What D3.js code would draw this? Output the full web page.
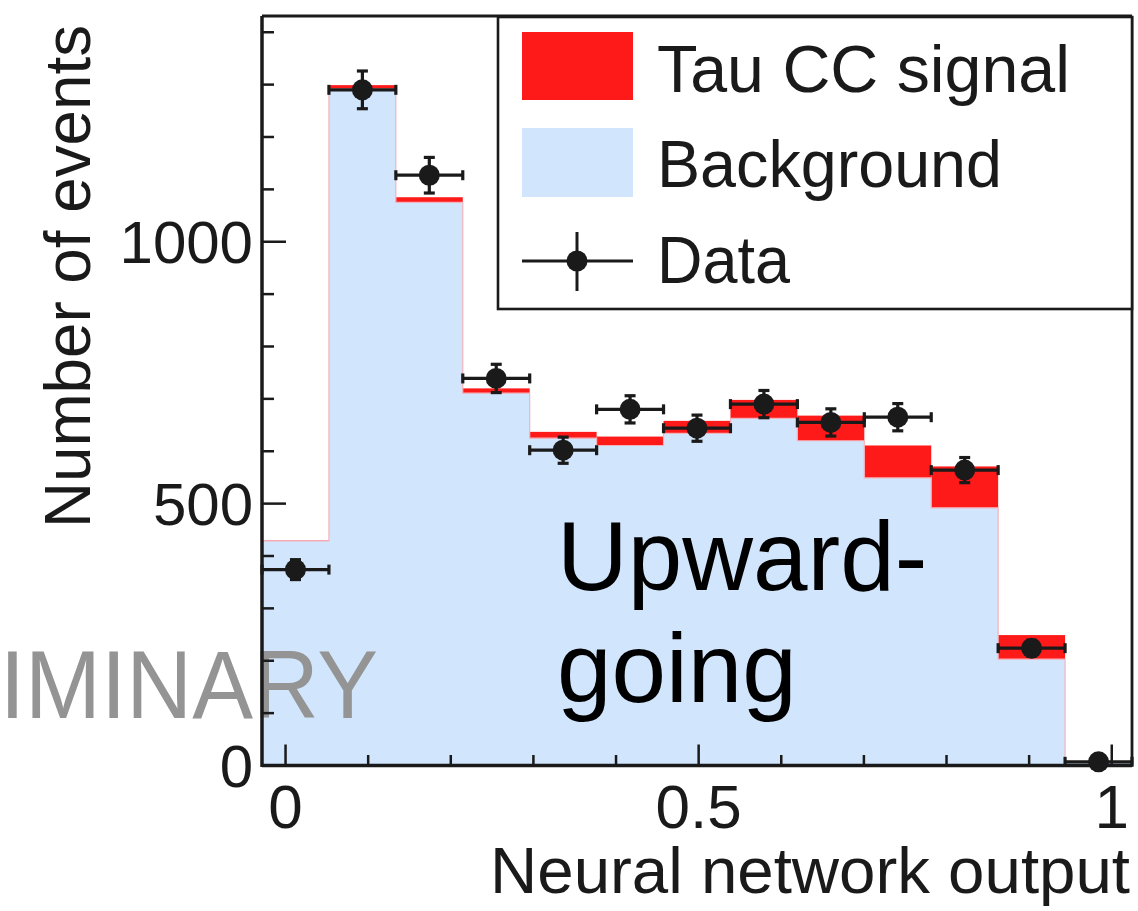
<!DOCTYPE html>
<html>
<head>
<meta charset="utf-8">
<script src="https://cdn.jsdelivr.net/npm/d3@7"></script>
<style>
  html, body { margin: 0; padding: 0; background: #fff; }
  svg { display: block; font-family: "Liberation Sans", Arial, Helvetica, sans-serif; }
</style>
</head>
<body>
<svg id="chart" width="1138" height="911"></svg>
<script>
// Histogram binning in neural-network output
const binCentres = [0.012, 0.093, 0.174, 0.255, 0.336, 0.417, 0.498, 0.579, 0.660, 0.741, 0.822, 0.903, 0.984];
const binWidth = 0.081;

// Stacked expectation per bin
const background = [429, 1292, 1075, 711, 625, 611, 634, 663, 620, 549, 492, 203, 6];
const tauSignal  = [1, 7, 10, 9, 12, 17, 24, 35, 48, 62, 79, 46, 1];

// Observed events and statistical uncertainty
const dataCounts = [374, 1290, 1127, 739, 602, 680, 644, 690, 655, 665, 564, 224, 7];
const dataErrors = [19, 36, 34, 27, 25, 26, 25, 26, 26, 26, 24, 15, 3];

// Axis ticks
const xMajorTicks = [0, 0.5, 1];
const xMinorTicks = [0, 0.1, 0.2, 0.3, 0.4, 0.5, 0.6, 0.7, 0.8, 0.9, 1];
const yMajorTicks = [0, 500, 1000];
const yMinorTicks = [0, 100, 200, 300, 400, 500, 600, 700, 800, 900, 1000, 1100, 1200, 1300, 1400];

const legendLabels = ["Tau CC signal", "Background", "Data"];

const RED = "#ff1a1a";
const BLUE = "#d1e5fd";
const INK = "#1a1a1a";

const frame = { left: 262, right: 1132, top: 16, bottom: 765.5 };
const svg = d3.select("#chart");

const x = d3.scaleLinear()
  .domain([binCentres[0] - binWidth / 2, binCentres[binCentres.length - 1] + binWidth / 2])
  .range([frame.left, frame.right]);
const y = d3.scaleLinear().domain([0, 1431]).range([frame.bottom, frame.top]);

const bins = binCentres.map((c, i) => ({
  lo: c - binWidth / 2, hi: c + binWidth / 2, c,
  bg: background[i], sig: tauSignal[i],
  data: dataCounts[i], err: dataErrors[i]
}));

const plot = svg.append("g");

// Background fill
plot.selectAll("rect.bg").data(bins).join("rect")
  .attr("class", "bg")
  .attr("x", d => x(d.lo)).attr("width", d => x(d.hi) - x(d.lo))
  .attr("y", d => y(d.bg)).attr("height", d => y(0) - y(d.bg))
  .attr("fill", BLUE).attr("shape-rendering", "crispEdges");

// Signal stacked on top of background
plot.selectAll("rect.sig").data(bins).join("rect")
  .attr("class", "sig")
  .attr("x", d => x(d.lo)).attr("width", d => x(d.hi) - x(d.lo))
  .attr("y", d => y(d.bg + d.sig)).attr("height", d => y(d.bg) - y(d.bg + d.sig))
  .attr("fill", RED);

// Faint outline of the background histogram
const outline = d3.line().curve(d3.curveStepAfter).x(d => x(d[0])).y(d => y(d[1]));
const outlinePts = bins.map(b => [b.lo, b.bg]);
outlinePts.push([bins[bins.length - 1].hi, bins[bins.length - 1].bg]);
plot.append("path")
  .attr("d", outline(outlinePts))
  .attr("fill", "none").attr("stroke", "#f3b3bb").attr("stroke-width", 1.2);

// Text overlays inside the frame
svg.append("text")
  .attr("transform", "translate(378,718) scale(0.95,1)")
  .attr("text-anchor", "end")
  .attr("font-size", 96).attr("fill", "#949494")
  .text("PRELIMINARY");

svg.append("text")
  .attr("x", 557).attr("y", 590)
  .attr("font-size", 98).attr("fill", "#000")
  .text("Upward-");
svg.append("text")
  .attr("x", 557).attr("y", 702)
  .attr("font-size", 98).attr("fill", "#000")
  .text("going");

// Data points with error bars
const pts = svg.append("g").attr("stroke", INK).attr("fill", INK);
const capH = 5, capV = 5.5;
bins.forEach(b => {
  const g = pts.append("g");
  const cx = x(b.c), cy = y(b.data);
  g.append("line").attr("x1", x(b.lo)).attr("x2", x(b.hi)).attr("y1", cy).attr("y2", cy).attr("stroke-width", 3.2);
  g.append("line").attr("x1", x(b.lo)).attr("x2", x(b.lo)).attr("y1", cy - capH).attr("y2", cy + capH).attr("stroke-width", 3.2);
  g.append("line").attr("x1", x(b.hi)).attr("x2", x(b.hi)).attr("y1", cy - capH).attr("y2", cy + capH).attr("stroke-width", 3.2);
  const yt = y(b.data + b.err), yb = y(Math.max(0, b.data - b.err));
  g.append("line").attr("x1", cx).attr("x2", cx).attr("y1", yt).attr("y2", yb).attr("stroke-width", 3.2);
  g.append("line").attr("x1", cx - capV).attr("x2", cx + capV).attr("y1", yt).attr("y2", yt).attr("stroke-width", 3.2);
  g.append("line").attr("x1", cx - capV).attr("x2", cx + capV).attr("y1", yb).attr("y2", yb).attr("stroke-width", 3.2);
  g.append("circle").attr("cx", cx).attr("cy", cy).attr("r", 10.5).attr("stroke", "none");
});

// Axes: frame, ticks and labels
const axes = svg.append("g").attr("stroke", INK);
axes.append("line").attr("x1", frame.left).attr("x2", frame.right).attr("y1", frame.top).attr("y2", frame.top).attr("stroke-width", 2.8);
axes.append("line").attr("x1", frame.right).attr("x2", frame.right).attr("y1", frame.top).attr("y2", frame.bottom).attr("stroke-width", 2.8);
axes.append("line").attr("x1", frame.left).attr("x2", frame.left).attr("y1", frame.top).attr("y2", frame.bottom + 1.5).attr("stroke-width", 3.5);
axes.append("line").attr("x1", frame.left).attr("x2", frame.right).attr("y1", frame.bottom).attr("y2", frame.bottom).attr("stroke-width", 3.5);

axes.selectAll("line.xminor").data(xMinorTicks).join("line")
  .attr("x1", d => x(d)).attr("x2", d => x(d))
  .attr("y1", frame.bottom).attr("y2", d => frame.bottom - (xMajorTicks.includes(d) ? 21 : 10.5))
  .attr("stroke-width", 2.5);
axes.selectAll("line.yminor").data(yMinorTicks).join("line")
  .attr("y1", d => y(d)).attr("y2", d => y(d))
  .attr("x1", frame.left).attr("x2", d => frame.left + (yMajorTicks.includes(d) ? 24 : 12))
  .attr("stroke-width", 2.5);

const labels = svg.append("g").attr("fill", INK);
labels.selectAll("text.xt").data(xMajorTicks).join("text")
  .attr("x", d => x(d)).attr("y", 828)
  .attr("text-anchor", "middle").attr("font-size", 62)
  .text(d => d3.format("")(d));
labels.selectAll("text.yt").data(yMajorTicks).join("text")
  .attr("x", 253).attr("y", d => y(d))
  .attr("dy", "0.35em")
  .attr("text-anchor", "end").attr("font-size", 60)
  .text(d => d);

labels.append("text")
  .attr("x", 490).attr("y", 893)
  .attr("font-size", 64)
  .attr("textLength", 640).attr("lengthAdjust", "spacingAndGlyphs")
  .text("Neural network output");
labels.append("text")
  .attr("transform", "translate(90,528) rotate(-90)")
  .attr("font-size", 64)
  .attr("textLength", 503).attr("lengthAdjust", "spacingAndGlyphs")
  .text("Number of events");

// Legend
const leg = svg.append("g");
leg.append("rect").attr("x", 498).attr("y", 17).attr("width", 634).attr("height", 292)
  .attr("fill", "#fff").attr("stroke", INK).attr("stroke-width", 2.6);
leg.append("rect").attr("x", 522).attr("y", 32).attr("width", 111).attr("height", 68).attr("fill", RED);
leg.append("rect").attr("x", 522).attr("y", 128).attr("width", 111).attr("height", 69).attr("fill", BLUE);
leg.append("line").attr("x1", 522).attr("x2", 633).attr("y1", 261).attr("y2", 261).attr("stroke", INK).attr("stroke-width", 3);
leg.append("line").attr("x1", 577).attr("x2", 577).attr("y1", 232).attr("y2", 291).attr("stroke", INK).attr("stroke-width", 3);
leg.append("circle").attr("cx", 577).attr("cy", 261).attr("r", 10.5).attr("fill", INK);
const legY = [92, 187, 283];
const legW = [413, 345, 133];
leg.selectAll("text").data(legendLabels).join("text")
  .attr("x", 657).attr("y", (d, i) => legY[i])
  .attr("font-size", 66).attr("fill", INK)
  .attr("textLength", (d, i) => legW[i]).attr("lengthAdjust", "spacingAndGlyphs")
  .text(d => d);
</script>
</body>
</html>
